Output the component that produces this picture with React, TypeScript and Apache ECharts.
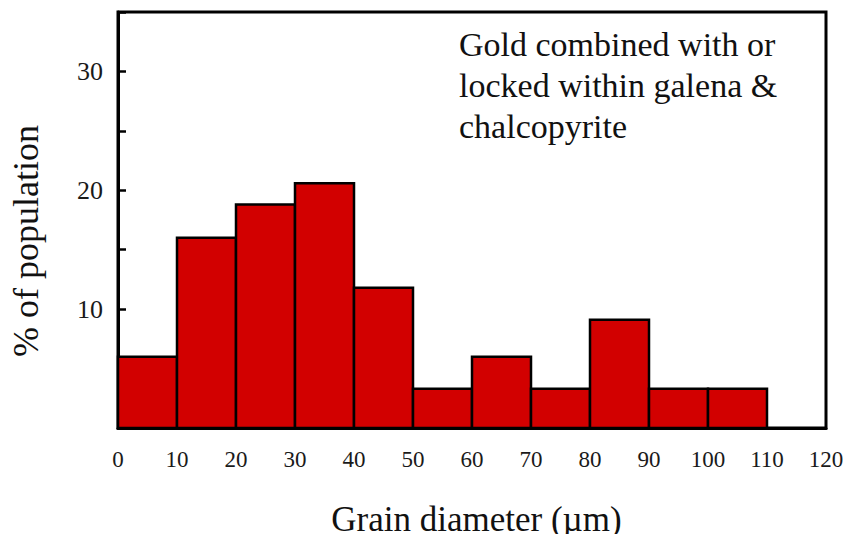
import React, { useEffect, useRef } from "react";
import * as echarts from "echarts";

const binStarts = [0, 10, 20, 30, 40, 50, 60, 70, 80, 90, 100];
const binWidth = 10;
const percentValues = [6, 16, 18.8, 20.6, 11.8, 3.3, 6, 3.3, 9.1, 3.3, 3.3];
const yLabelValues = [10, 20, 30];
const annotationLines = ["Gold combined with or", "locked within galena &", "chalcopyrite"];
const xTitle = "Grain diameter (µm)";
const yTitle = "% of population";

const FONT = "Liberation Serif";

export default function App() {
  const ref = useRef<HTMLDivElement>(null);
  useEffect(() => {
    if (!ref.current) return;
    const chart = echarts.init(ref.current, null, { renderer: "svg" });
    const data = binStarts.map((s, i) => [s, s + binWidth, percentValues[i]]);
    chart.setOption({
      animation: false,
      backgroundColor: "#ffffff",
      textStyle: { fontFamily: FONT },
      title: {
        text: annotationLines.join("\n"),
        left: 454,
        top: 19,
        textStyle: {
          fontFamily: FONT,
          fontSize: 34,
          fontWeight: "normal",
          lineHeight: 41,
          color: "#111",
        },
      },
      grid: {
        left: 117,
        right: 31,
        top: 12,
        bottom: 114,
        show: true,
        borderColor: "#000",
        borderWidth: 3,
        backgroundColor: "transparent",
      },
      xAxis: {
        type: "value",
        min: 0,
        max: 120,
        interval: 10,
        name: xTitle,
        nameLocation: "middle",
        nameGap: 74,
        nameTextStyle: { fontFamily: FONT, fontSize: 35, color: "#111", padding: [0, 0, 0, 9] },
        axisLine: { show: true, lineStyle: { color: "#000", width: 3 } },
        axisTick: { show: false },
        splitLine: { show: false },
        axisLabel: { fontFamily: FONT, fontSize: 23, color: "#1a1a1a", margin: 20 },
      },
      yAxis: {
        type: "value",
        min: 0,
        max: 35,
        interval: 5,
        name: yTitle,
        nameLocation: "middle",
        nameGap: 74,
        nameTextStyle: { fontFamily: FONT, fontSize: 36, color: "#111", padding: [0, 42, 0, 0] },
        axisLine: { show: true, lineStyle: { color: "#000", width: 3 } },
        axisTick: { show: true, inside: true, length: 8, lineStyle: { color: "#000", width: 2.5 } },
        splitLine: { show: false },
        axisLabel: {
          fontFamily: FONT,
          fontSize: 26,
          color: "#1a1a1a",
          margin: 15,
          formatter: (v: number) => (yLabelValues.includes(v) ? String(v) : ""),
        },
      },
      series: [
        {
          type: "custom",
          data,
          encode: { x: [0, 1], y: 2 },
          renderItem: (params: any, api: any) => {
            const p0 = api.coord([api.value(0), api.value(2)]);
            const p1 = api.coord([api.value(1), 0]);
            return {
              type: "rect",
              shape: { x: p0[0], y: p0[1], width: p1[0] - p0[0], height: p1[1] - p0[1] },
              style: { fill: "#d20000", stroke: "#000", lineWidth: 2.5 },
            };
          },
        },
      ],
    });
    return () => chart.dispose();
  }, []);
  return <div ref={ref} style={{ width: 857, height: 542, margin: -8 }} />;
}
